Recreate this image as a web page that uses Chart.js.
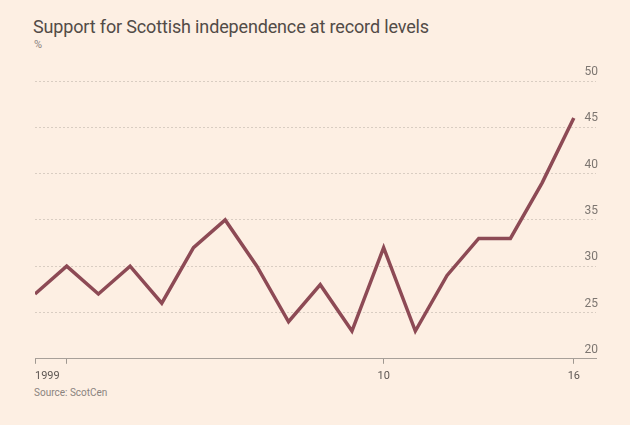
<!DOCTYPE html>
<html>
<head>
<meta charset="utf-8">
<script src="https://cdn.jsdelivr.net/npm/chart.js@4"></script>
<style>
  html, body { margin: 0; padding: 0; }
  body { width: 630px; height: 425px; background: #fdefe3; position: relative; overflow: hidden; font-family: Roboto, "Liberation Sans", sans-serif; }
  #title { position: absolute; left: 33px; top: 16px; font-size: 18px; color: #524b47; letter-spacing: -0.15px; }
  #unit { position: absolute; left: 34px; top: 38px; font-size: 11px; color: #8a837e; }
  #source { position: absolute; left: 34px; top: 387px; font-size: 10px; color: #8a837e; }
  #wrap { position: absolute; left: 0; top: 0; width: 630px; height: 425px; }
</style>
</head>
<body>
<div id="title">Support for Scottish independence at record levels</div>
<div id="unit">%</div>
<div id="source">Source: ScotCen</div>
<div id="wrap"><canvas id="chart"></canvas></div>
<script>
// survey years, one point each
const years = ['1999', '2000', '2001', '2002', '2003', '2004', '2005', '2006', '2007',
    '2008', '2009', '2010', '2011', '2012', '2013', '2014', '2015', '2016'];
// % supporting independence
const support = [27, 30, 27, 30, 26, 32, 35, 30, 24, 28, 23, 32, 23, 29, 33, 33, 39, 46];
// x-axis ticks (index into years) and their labels
const tickPositions = [0, 1, 11, 17];
const tickLabels = ['1999', '', '10', '16'];
const yTicks = [20, 25, 30, 35, 40, 45, 50];

const points = years.map((y, i) => ({ x: i, y: support[i] }));
const xEnd = 17.7;

const ctx = document.getElementById('chart').getContext('2d');
const myChart = new Chart(ctx, {
    type: 'line',
    data: {
        datasets: [{
            label: 'Support for independence',
            data: points,
            borderColor: '#8d4a55',
            borderWidth: 3.5,
            pointRadius: 0,
            fill: false,
            tension: 0
        }]
    },
    options: {
        responsive: true,
        maintainAspectRatio: false,
        animation: false,
        layout: { padding: { left: 35, right: 30, top: 81, bottom: 36 } },
        plugins: { legend: { display: false }, tooltip: { enabled: false } },
        scales: {
            x: {
                type: 'linear',
                min: 0,
                max: xEnd,
                afterBuildTicks: (axis) => {
                    axis.ticks = tickPositions.map(v => ({ value: v })).concat([{ value: xEnd }]);
                },
                grid: {
                    drawOnChartArea: false,
                    drawTicks: true,
                    tickLength: 5,
                    color: (c) => (c.tick && c.tick.value === xEnd) ? 'rgba(0,0,0,0)' : '#9f9891'
                },
                border: { display: true, color: '#a8a099', width: 1 },
                ticks: {
                    align: 'inner',
                    padding: 6,
                    maxRotation: 0,
                    autoSkip: false,
                    color: '#5e5753',
                    font: { family: 'Roboto', size: 11 },
                    callback: (v) => {
                        const k = tickPositions.indexOf(v);
                        return k >= 0 ? tickLabels[k] : '';
                    }
                }
            },
            y: {
                position: 'right',
                min: 20,
                max: 50,
                afterBuildTicks: (axis) => { axis.ticks = yTicks.map(v => ({ value: v })); },
                grid: {
                    drawTicks: false,
                    color: (c) => (c.tick && c.tick.value === 20) ? 'rgba(0,0,0,0)' : '#d9cdc2',
                    lineWidth: 1
                },
                border: { display: false, dash: [2, 2] },
                ticks: {
                    mirror: true,
                    padding: 2,
                    labelOffset: -9,
                    color: '#7d7671',
                    font: { family: 'Roboto', size: 12 }
                }
            }
        }
    }
});
</script>
</body>
</html>
